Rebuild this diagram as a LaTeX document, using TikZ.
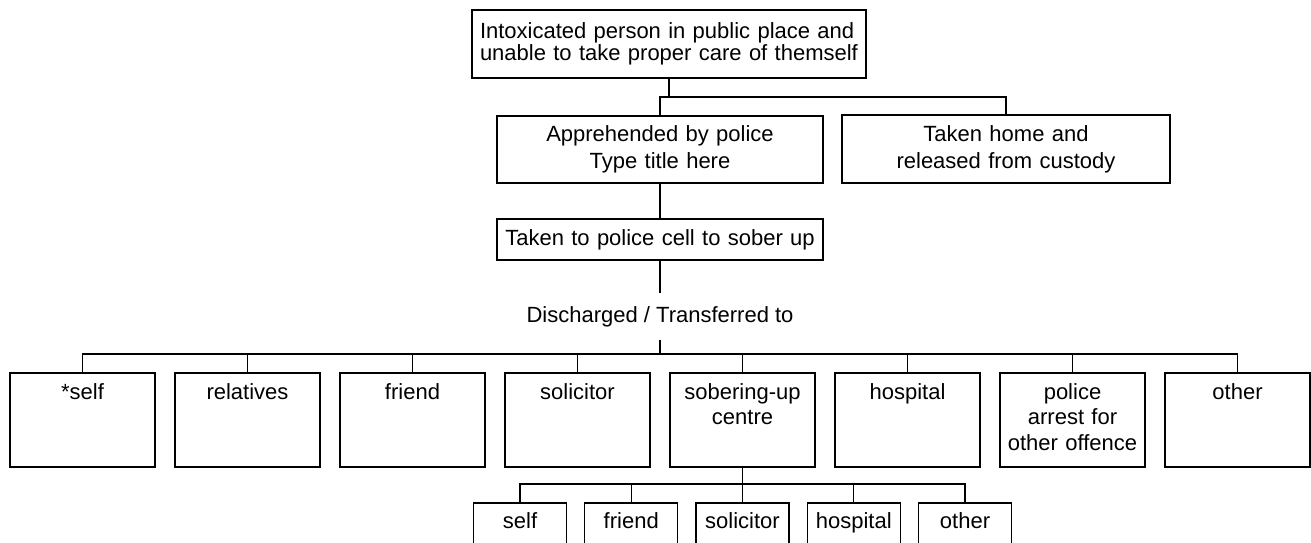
\documentclass[tikz,border=0pt]{standalone}
\usepackage{fontspec}
\setmainfont{Liberation Sans}
\begin{document}
\begin{tikzpicture}[x=1pt,y=-1pt,line width=1.3pt,
	font=\fontsize{22}{22}\selectfont,
	box/.style={draw, inner xsep=4pt, align=center},
	dest/.style={draw, inner xsep=2pt, inner ysep=10pt, text width=141pt, text height=16pt, text depth=58pt, align=center, font=\fontsize{22}{25.5}\selectfont},
	sub/.style={draw, inner xsep=2pt, inner ysep=9pt, text width=89pt, text height=16pt, text depth=26pt, align=center}]
	\useasboundingbox (0,0) rectangle (1311,542);
	\clip (0,0) rectangle (1311,542);
	\def\rowy{420};
	\def\suby{533};
	% top of the chart
	\node[box, inner xsep=8pt, text width=378pt, align=left, minimum height=68pt, font=\fontsize{22}{21.7}\selectfont] (top) at (669,44) {Intoxicated person in public place and\\unable to take proper care of themself};
	\node[box, text width=318pt, minimum height=67pt, font=\fontsize{22}{27}\selectfont] (appr) at (660,149.5) {Apprehended by police\\Type title here};
	\node[box, text width=320pt, minimum height=68pt, font=\fontsize{22}{27}\selectfont] (home) at (1006,149) {Taken home and\\released from custody};
	\node[box, text width=318pt, minimum height=41pt] (cell) at (660,239.5) {Taken to police cell to sober up};
	\node[inner xsep=0pt, inner ysep=12pt, text height=16pt, text depth=5pt] (disch) at (660,316.5) {Discharged / Transferred to};
	% destinations
	\node[dest] (d1) at (82.5,\rowy) {*self};
	\node[dest] (d2) at (247.5,\rowy) {relatives};
	\node[dest] (d3) at (412.5,\rowy) {friend};
	\node[dest] (d4) at (577.5,\rowy) {solicitor};
	\node[dest] (d5) at (742.5,\rowy) {sobering-up\\centre};
	\node[dest] (d6) at (907.5,\rowy) {hospital};
	\node[dest] (d7) at (1072.5,\rowy) {police\\arrest for\\other offence};
	\node[dest] (d8) at (1237.5,\rowy) {other};
	% from the sobering-up centre
	\node[sub] (s1) at (520,\suby) {self};
	\node[sub] (s2) at (631.25,\suby) {friend};
	\node[sub] (s3) at (742.5,\suby) {solicitor};
	\node[sub] (s4) at (853.75,\suby) {hospital};
	\node[sub] (s5) at (965,\suby) {other};
	\coordinate (j1) at (669,97);
	\coordinate (j2) at (660,354);
	\coordinate (j3) at (742.5,484);
	\draw (top.south) -- (j1);
	\draw (appr.north) |- (j1) -| (home.north);
	\draw (appr) -- (cell);
	\draw (cell) -- (disch);
	\draw (disch) -- (j2);
	\draw (d1.north) |- (j2) -| (d8.north);
	\draw (d2.north) -- (d2.north |- j2);
	\draw (d3.north) -- (d3.north |- j2);
	\draw (d4.north) -- (d4.north |- j2);
	\draw (d5.north) -- (d5.north |- j2);
	\draw (d6.north) -- (d6.north |- j2);
	\draw (d7.north) -- (d7.north |- j2);
	\draw (d5) -- (s3);
	\draw (s1.north) |- (j3) -| (s5.north);
	\draw (s2.north) -- (s2.north |- j3);
	\draw (s4.north) -- (s4.north |- j3);
\end{tikzpicture}
\end{document}
